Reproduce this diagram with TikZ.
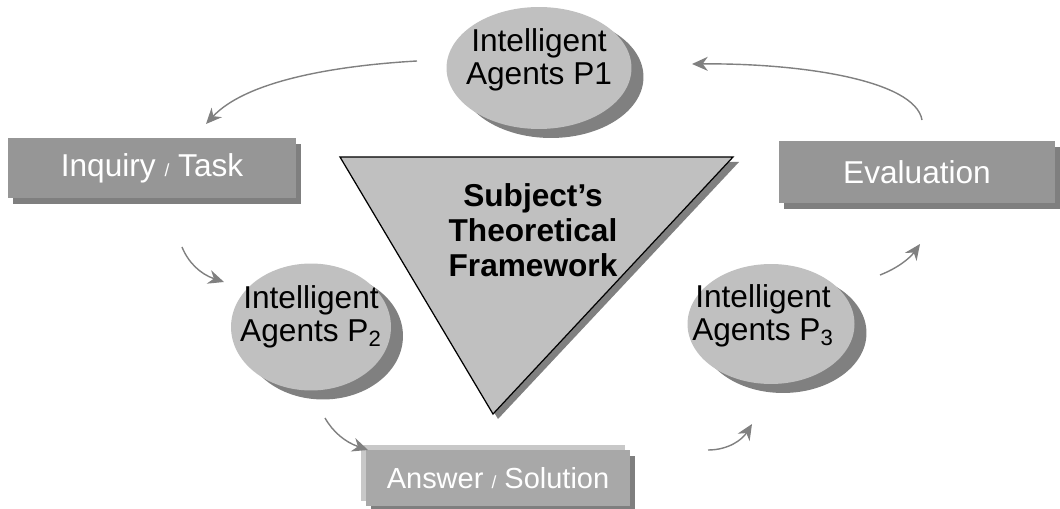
\documentclass[tikz,border=0pt]{standalone}
\usepackage{fontspec}
\setmainfont{Liberation Sans}
\usetikzlibrary{shapes.geometric,shadows,arrows.meta}

\definecolor{agentgray}{HTML}{C0C0C0}
\definecolor{shadegray}{HTML}{808080}
\definecolor{boxgray}{HTML}{969696}
\definecolor{boxshade}{HTML}{7F7F7F}
\definecolor{answergray}{HTML}{A8A8A8}
\definecolor{answershade}{HTML}{C8C8C8}
\definecolor{flowgray}{HTML}{808080}

\tikzset{
  agent/.style={ellipse, fill=agentgray, inner sep=0pt,
    drop shadow={shadow xshift=0.24cm, shadow yshift=-0.18cm, fill=shadegray, opacity=1}},
  agentlabel/.style={align=center, inner sep=0pt, font=\fontsize{18}{19}\selectfont},
  taskbox/.style={rectangle, fill=boxgray, text=white, inner sep=0pt,
    font=\fontsize{18}{21}\selectfont,
    drop shadow={shadow xshift=0.1cm, shadow yshift=-0.12cm, fill=boxshade, opacity=1}},
  answerbox/.style={taskbox, fill=answergray, font=\fontsize{16.5}{20}\selectfont,
    drop shadow={shadow xshift=-0.1cm, shadow yshift=0.1cm, fill=answershade, opacity=1}},
  frametitle/.style={align=center, font=\fontsize{18}{20}\selectfont\bfseries},
  flow/.style={draw=flowgray, line width=0.8pt, -{Stealth[length=9pt,width=8pt]}},
}
\newcommand{\smallslash}{{\fontsize{10}{12}\selectfont /}}

\begin{document}
\begin{tikzpicture}[x=0.02cm,y=-0.02cm]
\useasboundingbox (0,0) rectangle (1060,509);

\fill[shadegray] (346,162) -- (739,162) -- (498,419) -- cycle;
\draw[fill=agentgray, line width=0.7pt] (340,157) -- (733,157) -- (493,414) -- cycle;
\node[frametitle] (frame) at (533,230) {Subject’s\\Theoretical\\Framework};

\node[agent, minimum width=3.7cm, minimum height=2.44cm,
  label={[agentlabel, yshift=0.16cm]center:{Intelligent\\Agents P1}}] (p1) at (539,68) {};
\node[agent, minimum width=3.2cm, minimum height=2.54cm,
  label={[agentlabel, yshift=0.2cm]center:{Intelligent\\Agents P\textsubscript{2}}}] (p2) at (311,327) {};
\node[agent, minimum width=3.34cm, minimum height=2.4cm,
  label={[agentlabel, xshift=-0.16cm, yshift=0.16cm]center:{Intelligent\\Agents P\textsubscript{3}}}] (p3) at (771,324) {};

\node[taskbox, minimum width=5.78cm, minimum height=1.22cm] (inquiry) at (152,168) {Inquiry \smallslash{} Task};
\node[taskbox, minimum width=5.54cm, minimum height=1.24cm] (evaluation) at (917,172) {Evaluation};
\node[answerbox, minimum width=5.28cm, minimum height=1.14cm] (answer) at (498,478) {Answer \smallslash{} Solution\hspace{0.4cm}};

\coordinate (a1s) at (417,61);
\coordinate (a1e) at (206,124);
\coordinate (a2s) at (922,120);
\coordinate (a2e) at (692,64);
\coordinate (a3s) at (182,247);
\coordinate (a3e) at (224,282);
\coordinate (a4s) at (325,418);
\coordinate (a4e) at (368,450);
\coordinate (a5s) at (708,450);
\coordinate (a5e) at (752,424);
\coordinate (a6s) at (880,275);
\coordinate (a6e) at (920,244);

\draw[flow] (a1s) .. controls (330,66) and (245,82) .. (a1e);
\draw[flow] (a2s) .. controls (915,80) and (800,63) .. (a2e);
\draw[flow] (a3s) .. controls (188,262) and (200,274) .. (a3e);
\draw[flow] (a4s) .. controls (333,432) and (345,442) .. (a4e);
\draw[flow] (a5s) .. controls (728,450) and (742,440) .. (a5e);
\draw[flow] (a6s) .. controls (898,268) and (910,258) .. (a6e);
\end{tikzpicture}
\end{document}
